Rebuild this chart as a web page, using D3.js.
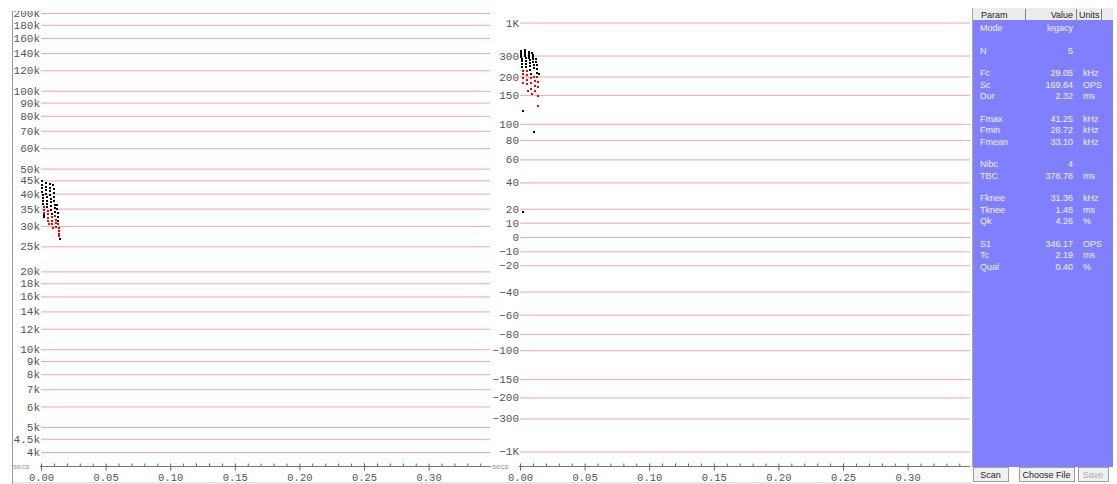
<!DOCTYPE html>
<html>
<head>
<meta charset="utf-8">
<script src="https://cdn.jsdelivr.net/npm/d3@7"></script>
<style>
  body { margin: 0; background: #fff; }
  svg { display: block; }
</style>
</head>
<body>
<div id="chart"></div>
<script>
// frequency axis (kHz, log)
const freqTicks = [200, 180, 160, 140, 120, 100, 90, 80, 70, 60, 50, 45, 40, 35, 30, 25, 20, 18, 16, 14, 12, 10, 9, 8, 7, 6, 5, 4.5, 4];
const freqLabels = ["200k", "180k", "160k", "140k", "120k", "100k", "90k", "80k", "70k", "60k", "50k", "45k", "40k", "35k", "30k", "25k", "20k", "18k", "16k", "14k", "12k", "10k", "9k", "8k", "7k", "6k", "5k", "4.5k", "4k"];

// slope axis (OPS)
const slopeTicks = [1000, 300, 200, 150, 100, 80, 60, 40, 20, 10, 0, -10, -20, -40, -60, -80, -100, -150, -200, -300, -1000];
const slopeLabels = ["1K", "300", "200", "150", "100", "80", "60", "40", "20", "10", "0", "\u221210", "\u221220", "\u221240", "\u221260", "\u221280", "\u2212100", "\u2212150", "\u2212200", "\u2212300", "\u22121K"];

// time axis (secs)
const timeMajor = [0, 0.05, 0.10, 0.15, 0.20, 0.25, 0.30];
const timeMinor = d3.range(0, 35).map(i => i / 100);

// call points: time (ms), frequency (kHz), slope (OPS), body flag
const ptTime = [
  0.4, 0.6, 0.8, 1.0, 1.2, 1.4, 1.6, 1.8, 2.0, 2.2, 2.4, 2.6, 2.3, 2.5,
  3.5, 3.7, 3.9, 4.1, 4.3, 4.5, 4.7, 4.9, 5.1, 5.3, 5.5, 5.7, 5.9,
  6.6, 6.8, 7.0, 7.2, 7.4, 7.6, 7.8, 8.0, 8.2, 8.4, 8.6, 8.8, 9.0,
  9.6, 9.8, 10.0, 10.2, 10.4, 10.6, 10.8, 11.0, 11.2, 11.4, 11.6, 11.8,
  12.4, 12.6, 12.8, 13.0, 13.2, 13.4, 13.6, 13.8, 14.0, 14.2, 14.4
];
const ptFreq = [
  44.6, 43.2, 41.9, 40.7, 39.6, 38.5, 37.5, 36.5, 35.5, 34.6, 33.7, 32.9, 33.2, 32.5,
  43.8, 42.5, 41.2, 40.0, 38.8, 37.6, 36.5, 35.4, 34.3, 33.3, 32.3, 31.4, 30.5,
  43.5, 42.1, 40.8, 39.5, 38.2, 37.0, 35.8, 34.6, 33.5, 32.4, 31.4, 30.4, 29.5,
  43.0, 41.6, 40.2, 38.9, 37.6, 36.3, 35.1, 33.9, 32.8, 31.7, 30.7, 29.8,
  36.0, 34.8, 33.6, 32.5, 31.4, 30.4, 29.5, 28.7, 28.0, 27.4, 26.6
];
const ptSlope = [
  330, 318, 305, 292, 280, 265, 250, 236, 222, 208, 195, 180, 120, 18,
  340, 326, 312, 298, 282, 268, 252, 238, 222, 206, 190, 176, 160,
  325, 312, 300, 286, 270, 256, 240, 226, 210, 194, 180, 165, 152,
  318, 305, 292, 278, 262, 248, 232, 89, 200, 186, 172, 158,
  280, 262, 246, 230, 214, 198, 182, 168, 148, 128, 210
];
const ptBody = [
  0, 0, 0, 0, 0, 0, 0, 0, 1, 1, 1, 1, 0, 0,
  0, 0, 0, 0, 0, 0, 0, 0, 1, 1, 1, 1, 1,
  0, 0, 0, 0, 0, 0, 0, 0, 0, 1, 1, 1, 1,
  0, 0, 0, 0, 0, 0, 0, 0, 1, 1, 1, 1,
  0, 0, 0, 0, 0, 1, 1, 1, 1, 1, 0
];

// parameter table
const paramNames  = ["Mode", "", "N", "", "Fc", "Sc", "Dur", "", "Fmax", "Fmin", "Fmean", "", "Nibc", "TBC", "", "Fknee", "Tknee", "Qk", "", "S1", "Tc", "Qual"];
const paramValues = ["legacy", "", "5", "", "29.05", "169.64", "2.32", "", "41.25", "28.72", "33.10", "", "4", "378.78", "", "31.36", "1.48", "4.26", "", "346.17", "2.19", "0.40"];
const paramUnits  = ["", "", "", "", "kHz", "OPS", "ms", "", "kHz", "kHz", "kHz", "", "", "ms", "", "kHz", "ms", "%", "", "OPS", "ms", "%"];
const buttonLabels = ["Scan", "Choose File", "Save"];

const W = 1117, H = 484;
const gridColor = "#f4a4a4";
const labelFont = "'Liberation Mono', 'DejaVu Sans Mono', monospace";

const points = ptTime.map((t, i) => ({t: t / 1000, f: ptFreq[i], s: ptSlope[i], body: ptBody[i]}));

const svg = d3.select("#chart").append("svg")
  .attr("width", W)
  .attr("height", H);

svg.append("rect").attr("width", W).attr("height", H).attr("fill", "#fff");

svg.append("defs").append("clipPath").attr("id", "plotclip")
  .append("rect").attr("x", 0).attr("y", 11).attr("width", 972).attr("height", 473);

// scales
const yFreq = d3.scaleLog().domain([200, 4]).range([13, 452]);
const slopeK = 102;
const yAngle = d3.scaleLinear().domain([Math.PI / 2, -Math.PI / 2]).range([7.7, 466.3]);
const ySlope = v => yAngle(Math.atan(v / slopeK));

const xLeft = d3.scaleLinear().domain([0, 0.3475]).range([41, 490]);
const xMid = d3.scaleLinear().domain([0, 0.3475]).range([520, 969]);

const plots = svg.append("g").attr("clip-path", "url(#plotclip)");

// ----- left panel: frequency
plots.append("g")
  .attr("transform", "translate(41,0)")
  .call(d3.axisLeft(yFreq).tickValues(freqTicks).tickFormat((d, i) => freqLabels[i]).tickSize(-449).tickPadding(1))
  .call(g => g.select(".domain").remove())
  .call(g => g.selectAll(".tick line").attr("stroke", gridColor))
  .call(g => g.selectAll(".tick text").attr("font-family", labelFont).attr("font-size", 11).attr("fill", "#555"));

// ----- middle panel: slope
plots.append("g")
  .attr("transform", "translate(520,0)")
  .call(d3.axisLeft(yAngle).tickValues(slopeTicks.map(v => Math.atan(v / slopeK))).tickFormat((d, i) => slopeLabels[i]).tickSize(-450).tickPadding(1))
  .call(g => g.select(".domain").remove())
  .call(g => g.selectAll(".tick line").attr("stroke", gridColor))
  .call(g => g.selectAll(".tick text").attr("font-family", labelFont).attr("font-size", 11).attr("fill", "#555"));

// left border line
svg.append("line")
  .attr("x1", 12.5).attr("x2", 12.5).attr("y1", 11).attr("y2", H)
  .attr("stroke", "#9a9a9a");

// time axes
function timeAxis(x, left, right) {
  const g = svg.append("g").attr("transform", "translate(0,466.5)");
  g.append("line").attr("x1", left).attr("x2", right).attr("stroke", "#777");
  g.append("g")
    .call(d3.axisBottom(x).tickValues(timeMinor).tickSize(-3).tickFormat(""))
    .call(a => a.select(".domain").remove())
    .call(a => a.selectAll(".tick line").attr("stroke", "#666"));
  g.append("g")
    .call(d3.axisBottom(x).tickValues(timeMajor).tickSize(4).tickPadding(3).tickFormat(d3.format(".2f")))
    .call(a => a.select(".domain").remove())
    .call(a => a.selectAll(".tick line").attr("stroke", "#666"))
    .call(a => a.selectAll(".tick text").attr("font-family", labelFont).attr("font-size", 10.5).attr("fill", "#555"));
  g.append("text")
    .attr("x", left - 27).attr("y", 2)
    .attr("font-family", "'Liberation Sans', sans-serif").attr("font-size", 8)
    .attr("fill", "#999")
    .text("secs");
}
timeAxis(xLeft, 40, 491);
timeAxis(xMid, 519, 970);

// bottom strip
svg.append("rect").attr("x", 13).attr("y", 482).attr("width", 958).attr("height", 2).attr("fill", "#e6e6e6");

// ----- dots
const dotColor = d => d.body ? "#ff0000" : "#000";

plots.append("g").selectAll("rect")
  .data(points)
  .join("rect")
    .attr("x", d => Math.round(xLeft(d.t)) - 1)
    .attr("y", d => Math.round(yFreq(d.f)) - 1)
    .attr("width", 2).attr("height", 2)
    .attr("fill", dotColor);

plots.append("g").selectAll("rect")
  .data(points)
  .join("rect")
    .attr("x", d => Math.round(xMid(d.t)) - 1)
    .attr("y", d => Math.round(ySlope(d.s)) - 1)
    .attr("width", 2).attr("height", 2)
    .attr("fill", dotColor);

// ----- right panel
const panel = svg.append("g");
const px = 973, pw = 140;
panel.append("rect").attr("x", px).attr("y", 8).attr("width", pw).attr("height", 459).attr("fill", "#8080ff");
panel.append("line").attr("x1", px - 0.5).attr("x2", px - 0.5).attr("y1", 8).attr("y2", 467).attr("stroke", "#a8a8a8");
panel.append("rect").attr("x", px).attr("y", 8).attr("width", pw).attr("height", 12).attr("fill", "#ececec");
[1025, 1076, 1101].forEach(x => {
  panel.append("line").attr("x1", x + 0.5).attr("x2", x + 0.5).attr("y1", 9).attr("y2", 20).attr("stroke", "#808080");
});

const tableFont = "'Liberation Sans', Arial, sans-serif";
panel.append("text").attr("x", 981).attr("y", 17.5).text("Param");
panel.append("text").attr("x", 1073).attr("y", 17.5).attr("text-anchor", "end").text("Value");
panel.append("text").attr("x", 1079).attr("y", 17.5).text("Units");
panel.selectAll("text")
  .attr("font-family", tableFont).attr("font-size", 9).attr("fill", "#222");

const rowY = d3.scaleLinear().domain([0, 21]).range([31, 269.5]);
const rows = paramNames.map((n, i) => ({n, v: paramValues[i], u: paramUnits[i], i}));
const rowG = panel.append("g")
  .attr("font-family", tableFont).attr("font-size", 9).attr("fill", "#f2f2ff");
rowG.selectAll(".pname").data(rows).join("text").attr("class", "pname")
  .attr("x", 980).attr("y", d => rowY(d.i)).text(d => d.n);
rowG.selectAll(".pval").data(rows).join("text").attr("class", "pval")
  .attr("x", 1073).attr("y", d => rowY(d.i)).attr("text-anchor", "end").text(d => d.v);
rowG.selectAll(".punit").data(rows).join("text").attr("class", "punit")
  .attr("x", 1083).attr("y", d => rowY(d.i)).text(d => d.u);

// buttons
const btnX = [973, 1019, 1078], btnW = [35, 55, 30];
const btn = panel.selectAll(".btn").data(buttonLabels).join("g").attr("class", "btn");
btn.append("rect")
  .attr("x", (d, i) => btnX[i] + 0.5).attr("y", 467.5)
  .attr("width", (d, i) => btnW[i]).attr("height", 14)
  .attr("fill", "#f0f0f0").attr("stroke", "#a0a0a0");
btn.append("text")
  .attr("x", (d, i) => btnX[i] + btnW[i] / 2).attr("y", 478)
  .attr("text-anchor", "middle")
  .attr("font-family", tableFont).attr("font-size", 9)
  .attr("fill", (d, i) => i === 2 ? "#aaa" : "#222")
  .text(d => d);
</script>
</body>
</html>
